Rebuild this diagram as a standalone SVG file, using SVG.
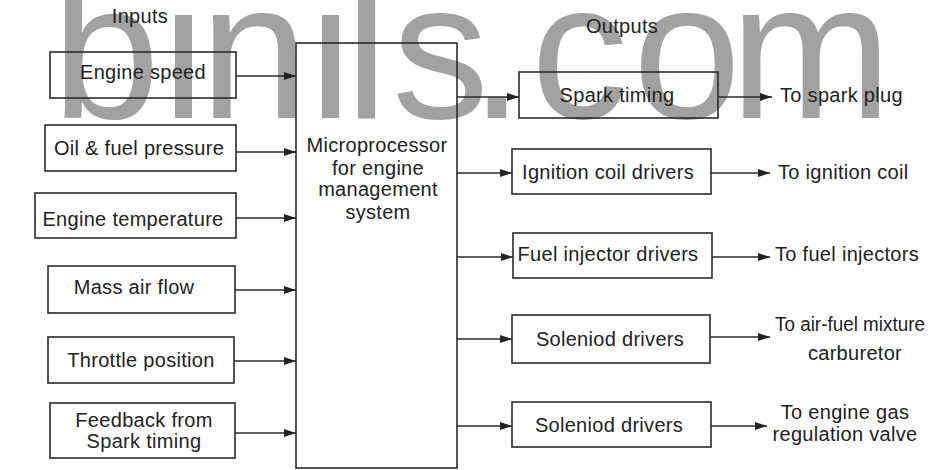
<svg xmlns="http://www.w3.org/2000/svg" width="935" height="470" viewBox="0 0 935 470">
<style>
.t{font-family:"Liberation Sans",Arial,sans-serif;font-size:20px;letter-spacing:0.3px;fill:#222}
.c{text-anchor:middle}
.box{fill:none;stroke:#2a2a2a;stroke-width:1.6}
.wm{font-family:"Liberation Sans",Arial,sans-serif;font-size:194px;fill:#a2a2a2}
.ln{stroke:#2a2a2a;stroke-width:1.6;fill:none;marker-end:url(#ah)}
</style>
<defs>
<marker id="ah" viewBox="0 0 12 8" refX="12" refY="4" markerWidth="12" markerHeight="8" markerUnits="userSpaceOnUse" orient="auto">
<path d="M0,0 L12,4 L0,8 Z" fill="#222"/>
</marker>
</defs>
<rect width="935" height="470" fill="#fff"/>
<text class="wm" x="52 162 200 309 345 392 470 531 633 730" y="118">binils.com</text>
<text class="t c" x="140" y="23">Inputs</text>
<text class="t c" x="622" y="33">Outputs</text>
<g id="in-engine-speed"><rect class="box" x="50" y="52" width="186" height="46"/><text class="t c" x="143" y="79">Engine speed</text></g>
<g id="in-oil-fuel"><rect class="box" x="45" y="125" width="191" height="46"/><text class="t c" x="139" y="155">Oil &amp; fuel pressure</text></g>
<g id="in-engine-temp"><rect class="box" x="35" y="193" width="201" height="45"/><text class="t c" x="133" y="226">Engine temperature</text></g>
<g id="in-mass-air"><rect class="box" x="48" y="266" width="187" height="47"/><text class="t c" x="134" y="294">Mass air flow</text></g>
<g id="in-throttle"><rect class="box" x="48" y="337" width="186" height="46"/><text class="t c" x="141" y="367">Throttle position</text></g>
<g id="in-feedback"><rect class="box" x="50" y="403" width="185" height="55"/><text class="t c" x="144" y="427">Feedback from</text><text class="t c" x="144" y="448">Spark timing</text></g>
<g id="micro"><rect class="box" x="296" y="43" width="161" height="425"/><text class="t c" x="377" y="152">Microprocessor</text><text class="t c" x="378" y="175">for engine</text><text class="t c" x="378" y="196">management</text><text class="t c" x="378" y="219">system</text></g>
<g id="out-spark"><rect class="box" x="519" y="72" width="199" height="46"/><text class="t c" x="617" y="102">Spark timing</text></g>
<g id="out-ignition"><rect class="box" x="512" y="149" width="199" height="45"/><text class="t c" x="608" y="179">Ignition coil drivers</text></g>
<g id="out-fuel"><rect class="box" x="513" y="233" width="199" height="45"/><text class="t c" x="608" y="261">Fuel injector drivers</text></g>
<g id="out-sol1"><rect class="box" x="512" y="315" width="198" height="48"/><text class="t c" x="610" y="346">Soleniod drivers</text></g>
<g id="out-sol2"><rect class="box" x="512" y="402" width="199" height="45"/><text class="t c" x="609" y="432">Soleniod drivers</text></g>
<g id="dest-spark"><text class="t" x="780" y="102">To spark plug</text></g>
<g id="dest-ignition"><text class="t" x="778" y="179">To ignition coil</text></g>
<g id="dest-fuel"><text class="t" x="775" y="261">To fuel injectors</text></g>
<g id="dest-carb"><text class="t" x="775" y="331" style="letter-spacing:0" textLength="150" lengthAdjust="spacingAndGlyphs">To air-fuel mixture</text><text class="t c" x="855" y="360">carburetor</text></g>
<g id="dest-gas"><text class="t c" x="845" y="419">To engine gas</text><text class="t c" x="845" y="441">regulation valve</text></g>
<g id="connectors">
<line class="ln" x1="236" y1="76" x2="296" y2="76"/>
<line class="ln" x1="236" y1="152" x2="296" y2="152"/>
<line class="ln" x1="236" y1="218" x2="296" y2="218"/>
<line class="ln" x1="235" y1="290" x2="296" y2="290"/>
<line class="ln" x1="234" y1="361" x2="296" y2="361"/>
<line class="ln" x1="235" y1="433" x2="296" y2="433"/>
<line class="ln" x1="457" y1="97" x2="519" y2="97"/>
<line class="ln" x1="457" y1="173" x2="512" y2="173"/>
<line class="ln" x1="457" y1="257" x2="513" y2="257"/>
<line class="ln" x1="457" y1="339" x2="512" y2="339"/>
<line class="ln" x1="457" y1="426" x2="512" y2="426"/>
<line class="ln" x1="718" y1="97" x2="772" y2="97"/>
<line class="ln" x1="711" y1="173" x2="770" y2="173"/>
<line class="ln" x1="712" y1="257" x2="770" y2="257"/>
<line class="ln" x1="710" y1="337" x2="770" y2="337"/>
<line class="ln" x1="711" y1="426" x2="767" y2="426"/>
</g>
</svg>
